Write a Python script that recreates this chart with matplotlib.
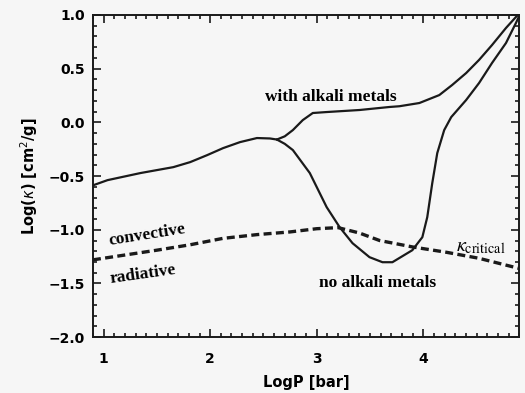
import numpy as np
import matplotlib
matplotlib.use("Agg")
import matplotlib.pyplot as plt
from matplotlib.ticker import MultipleLocator

# common trunk (log P, log kappa)
trunk_x = [0.907, 1.037, 1.346, 1.654, 1.813, 1.972, 2.121, 2.280, 2.439, 2.561, 2.626]
trunk_y = [-0.584, -0.538, -0.472, -0.417, -0.370, -0.305, -0.240, -0.184, -0.146, -0.150, -0.160]

# with alkali metals branch
with_x = [2.626, 2.700, 2.776, 2.869, 2.963, 3.093, 3.402, 3.682, 3.776, 3.963, 4.150,
          4.271, 4.402, 4.523, 4.645, 4.776, 4.869, 4.890]
with_y = [-0.160, -0.130, -0.072, 0.021, 0.087, 0.096, 0.115, 0.143, 0.150, 0.180, 0.254,
          0.348, 0.459, 0.581, 0.720, 0.879, 0.981, 1.000]

# no alkali metals branch
no_x = [2.626, 2.700, 2.776, 2.935, 3.093, 3.215, 3.336, 3.495, 3.617, 3.710, 3.897,
        3.991, 4.037, 4.084, 4.131, 4.196, 4.262, 4.402, 4.523, 4.645, 4.776, 4.869, 4.900]
no_y = [-0.160, -0.200, -0.258, -0.472, -0.789, -0.976, -1.125, -1.255, -1.302, -1.302, -1.190,
        -1.069, -0.883, -0.566, -0.286, -0.072, 0.049, 0.208, 0.366, 0.553, 0.739, 0.925, 0.990]

# kappa critical
crit_x = [0.90, 1.50, 1.81, 2.12, 2.44, 2.75, 3.00, 3.20, 3.40, 3.59, 3.90, 4.22, 4.52, 4.90]
crit_y = [-1.28, -1.19, -1.14, -1.08, -1.045, -1.02, -0.99, -0.98, -1.03, -1.10, -1.16, -1.21,
          -1.265, -1.36]

bg = "#f6f6f6"
fig = plt.figure(figsize=(5.25, 3.93), dpi=100, facecolor=bg)
ax = fig.add_axes([0.177, 0.142, 0.812, 0.820])
ax.set_facecolor(bg)

lc = "#1a1a1a"
for xs, ys in [(trunk_x, trunk_y), (with_x, with_y), (no_x, no_y)]:
    ax.plot(xs, ys, color=lc, lw=1.6, solid_joinstyle="round", solid_capstyle="round")
ax.plot(crit_x, crit_y, color=lc, lw=2.4, dashes=(2.4, 1.3))

ax.set_xlim(0.9, 4.9)
ax.set_ylim(-2.0, 1.0)
ax.set_xticks([1, 2, 3, 4])
ax.set_xticklabels(["1", "2", "3", "4"])
ax.set_yticks([-2.0, -1.5, -1.0, -0.5, 0.0, 0.5, 1.0])
ax.set_yticklabels(["\u22122.0", "\u22121.5", "\u22121.0", "\u22120.5", "0.0", "0.5", "1.0"])
ax.xaxis.set_minor_locator(MultipleLocator(0.1))
ax.yaxis.set_minor_locator(MultipleLocator(0.1))
ax.tick_params(which="both", direction="in", top=True, right=True, color=lc, width=1.2)
ax.tick_params(which="major", length=6, labelsize=10)
ax.tick_params(axis="y", which="major", pad=6)
ax.tick_params(axis="x", which="major", pad=11)
ax.tick_params(which="minor", length=3)
for lab in ax.get_xticklabels() + ax.get_yticklabels():
    lab.set_fontweight("bold")
for s in ax.spines.values():
    s.set_linewidth(1.4)
    s.set_color(lc)

ax.set_xlabel("LogP [bar]", fontsize=10.5, fontweight="bold")
ax.set_ylabel("Log($\\kappa$) [cm$^2$/g]", fontsize=10.5, fontweight="bold")
ax.yaxis.set_label_coords(-0.124, 0.5)
ax.xaxis.set_label_coords(0.5, -0.118)

serif = "Liberation Serif"
ax.text(3.13, 0.24, "with alkali metals", family=serif, fontweight="bold", fontsize=12.5,
        ha="center", va="center")
ax.text(3.57, -1.50, "no alkali metals", family=serif, fontweight="bold", fontsize=12.5,
        ha="center", va="center")
ax.text(1.41, -1.045, "convective", family=serif, fontweight="bold", fontsize=12.5,
        ha="center", va="center", rotation=9)
ax.text(1.37, -1.42, "radiative", family=serif, fontweight="bold", fontsize=12.5,
        ha="center", va="center", rotation=8)
ax.text(4.54, -1.16, "$\\kappa_{\\mathrm{critical}}$", fontsize=14.5, ha="center", va="center",
        math_fontfamily="stix")

fig.savefig("out.png", dpi=100, facecolor=bg)
